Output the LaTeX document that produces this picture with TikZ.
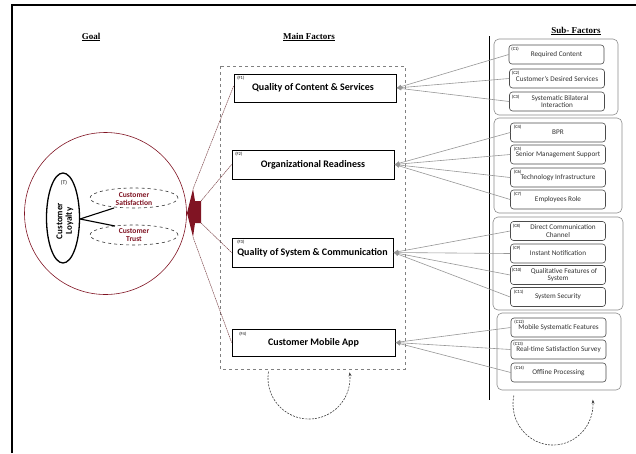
\documentclass[tikz,border=0pt]{standalone}
\usepackage{fontspec}
\setmainfont{Carlito}
\newfontfamily\titlefont{Liberation Serif}
\usetikzlibrary{arrows.meta,shapes.geometric}
\definecolor{dred}{RGB}{128,20,35}
\definecolor{lred}{RGB}{125,70,75}
\definecolor{sgray}{RGB}{150,150,150}
\tikzset{
  ttl/.style={font=\titlefont\bfseries\fontsize{9}{10}\selectfont, inner sep=0},
  mainbox/.style={draw, line width=0.8pt, fill=white, font=\bfseries\fontsize{10}{11}\selectfont, inner sep=1pt, align=center},
  subbox/.style={draw=black!70, line width=0.6pt, rounded corners=3pt, fill=white, minimum width=95pt, minimum height=19pt, font=\fontsize{7.2}{7.6}\selectfont, text=black!80, inner sep=1pt, align=center},
  grp/.style={draw=black!45, line width=0.6pt, rounded corners=5pt},
  tag/.style={font=\fontsize{4.5}{4.5}\selectfont, inner sep=0.5pt, anchor=north west},
  subline/.style={draw=sgray, line width=0.6pt, -{Latex[length=5pt,width=4pt]}},
  redline/.style={draw=lred, line width=0.5pt, dash pattern=on 1.5pt off 0.6pt},
  dashel/.style={draw=black!80, dashed, line width=0.6pt},
  loop/.style={draw=black!75, line width=0.6pt, dash pattern=on 2pt off 1.2pt, -{Stealth[length=4pt,width=3pt]}},
}
\begin{document}
\begin{tikzpicture}[x=1pt,y=-1pt]
\useasboundingbox (0,0) rectangle (636,453);
% frame
\draw[line width=2.8pt] (12,453) -- (12,5) -- (636,5);
\draw[line width=1pt] (489,36) -- (489,400);
% titles
\node[ttl] (tg) at (91,37) {\underline{Goal}};
\node[ttl] (tm) at (309,37) {\underline{Main Factors}};
\node[ttl] (ts) at (576,31) {\underline{Sub- Factors}};
% main dashed container
\draw[draw=black!50, dashed, line width=0.6pt] (220,66) rectangle (405,369);
% goal circle
\draw[dred, line width=0.6pt] (105.5,213.5) circle[radius=81];
\node[draw, line width=1.3pt, ellipse, minimum width=33pt, minimum height=90pt, inner sep=0] (cl) at (63,218) {};
\node[font=\bfseries\fontsize{9}{9.5}\selectfont, rotate=90, align=center] (clt) at (65,221) {Customer\\Loyalty};
\node[font=\fontsize{5.5}{5.5}\selectfont, inner sep=0] (tt) at (64,183) {(T)};
\node[dashel, ellipse, minimum width=88pt, minimum height=20pt, inner sep=0] (cs) at (134,198) {};
\node[font=\bfseries\fontsize{7.6}{8.2}\selectfont, text=dred, align=center, inner sep=0] (cst) at (134,199) {Customer\\Satisfaction};
\node[dashel, ellipse, minimum width=88pt, minimum height=20pt, inner sep=0] (ctr) at (134,235) {};
\node[font=\bfseries\fontsize{7.6}{8.2}\selectfont, text=dred, align=center, inner sep=0] (ctt) at (134,235) {Customer\\Trust};
\coordinate (lo) at (80,219);
\coordinate (sa) at (114,208);
\coordinate (tr) at (115,226);
\draw[line width=1.1pt] (lo) -- (sa);
\draw[line width=1.1pt] (lo) -- (tr);
% red connector shape
\coordinate (rt) at (193,189);
\coordinate (r1) at (201,201);
\coordinate (r2) at (201,223);
\coordinate (rb) at (193,237);
\fill[dred] (rt) -- (195,201) -- (r1) -- (r2) -- (195,223) -- (rb) -- (187,213) -- cycle;
% main factor boxes
\node[mainbox, minimum width=162pt, minimum height=28pt] (f1) at (315,88) {\raisebox{-1pt}{Quality of Content \& Services}\hspace*{4pt}};
\node[tag] at ([shift={(3,2)}]f1.north west) {(F1)};
\node[mainbox, minimum width=162pt, minimum height=29pt] (f2) at (313,164.5) {Organizational Readiness};
\node[tag] at ([shift={(3,2)}]f2.north west) {(F2)};
\node[mainbox, minimum width=161pt, minimum height=29pt] (f3) at (312.5,252.5) {\raisebox{-2pt}{Quality of System \& Communication}};
\node[tag] at ([shift={(5,2)}]f3.north west) {(F3)};
\node[mainbox, minimum width=163pt, minimum height=27pt] (f4) at (313.5,342.5) {Customer Mobile App};
\node[tag] at ([shift={(7,3)}]f4.north west) {(F4)};
% lines from goal to main factors
\draw[redline] (rt) -- ([yshift=2pt]f1.west);
\draw[redline] (r1) -- (f2.west);
\draw[redline] (r2) -- (f3.west);
\draw[redline] (rb) -- (f4.west);
% sub-factor groups
\draw[grp] (494,39) rectangle (618,115);
\draw[grp] (494,118) rectangle (622,213);
\draw[grp] (493,217) rectangle (623,310);
\draw[grp] (497,313) rectangle (621,390);
% sub-factor boxes
\node[subbox] (c1) at (556.5,54.5) {Required Content};
\node[tag] at ([shift={(2,1.5)}]c1.north west) {(C1)};
\node[subbox] (c2) at (557,78.5) {\raisebox{-2pt}{Customer's Desired Services}};
\node[tag] at ([shift={(2,1.5)}]c2.north west) {(C2)};
\node[subbox] (c3) at (557,101.5) {\hspace*{6pt}Systematic Bilateral\\Interaction};
\node[tag] at ([shift={(2,2.5)}]c3.north west) {(C3)};
\node[subbox] (c4) at (558,132.5) {BPR};
\node[tag] at ([shift={(3,1.5)}]c4.north west) {(C4)};
\node[subbox] (c5) at (558,154.5) {\raisebox{-2pt}{Senior Management Support}};
\node[tag] at ([shift={(3,1.5)}]c5.north west) {(C5)};
\node[subbox] (c6) at (558,177.5) {\raisebox{-2pt}{Technology Infrastructure}};
\node[tag] at ([shift={(3,1.5)}]c6.north west) {(C6)};
\node[subbox] (c7) at (558,199.5) {Employees Role};
\node[tag] at ([shift={(3,2)}]c7.north west) {(C7)};
\node[subbox] (c8) at (558,231) {\hspace*{10pt}Direct Communication\\Channel};
\node[tag] at ([shift={(2,2)}]c8.north west) {(C8)};
\node[subbox] (c9) at (558,253.5) {Instant Notification};
\node[tag] at ([shift={(2,2)}]c9.north west) {(C9)};
\node[subbox] (c10) at (558,275) {\hspace*{12pt}Qualitative Features of\\System};
\node[tag] at ([shift={(1,2)}]c10.north west) {(C10)};
\node[subbox] (c11) at (558,297) {System Security};
\node[tag] at ([shift={(3,2.5)}]c11.north west) {(C11)};
\node[subbox] (c12) at (558.5,327.5) {\raisebox{-2pt}{Mobile Systematic Features}};
\node[tag] at ([shift={(3,1.5)}]c12.north west) {(C12)};
\node[subbox] (c13) at (558.5,349.5) {\raisebox{-2pt}{Real-time Satisfaction Survey}};
\node[tag] at ([shift={(2,1.5)}]c13.north west) {(C13)};
\node[subbox] (c14) at (558.5,372.5) {Offline Processing};
\node[tag] at ([shift={(3,3)}]c14.north west) {(C14)};
% sub to main connectors
\foreach \s in {c1,c2,c3}{\draw[subline] (\s.west) -- (f1.east);}
\foreach \s in {c4,c5,c6,c7}{\draw[subline] (\s.west) -- (f2.east);}
\foreach \s in {c8,c9,c10,c11}{\draw[subline] (\s.west) -- (f3.east);}
\foreach \s in {c12,c13,c14}{\draw[subline] (\s.west) -- (f4.east);}
% loop arrows
\draw[loop] plot[domain=171:368, samples=60, smooth] ({309+41*cos(\x)},{378-41*sin(\x)});
\draw[loop] plot[domain=168:366, samples=60, smooth] ({553+40*cos(\x)},{404-41*sin(\x)});
\end{tikzpicture}
\end{document}
